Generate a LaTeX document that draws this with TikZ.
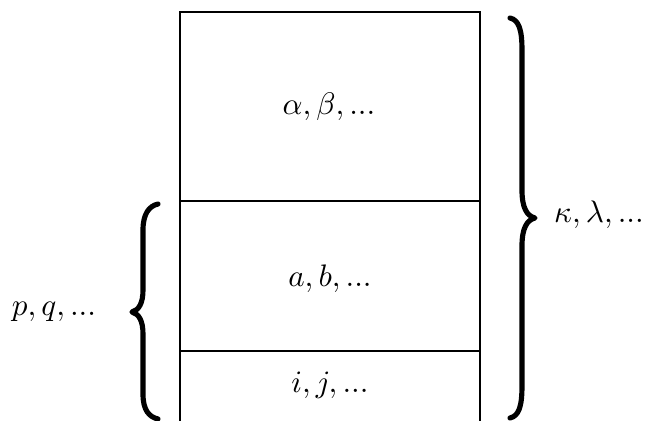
\documentclass[tikz,border=0pt]{standalone}
\begin{document}
\begin{tikzpicture}[x=0.3214pt,y=-0.3214pt,
  frame/.style={line width=0.65pt},
  bracepath/.style={line width=1.65pt,line cap=round,line join=round},
  lbl/.style={inner sep=0pt,anchor=center}]
\useasboundingbox (0,0) rectangle (645,421);
% index block: open at the bottom
\draw[frame] (180,421) -- (180,12) -- (480,12) -- (480,421);
\draw[frame] (180,201) -- (480,201);
\draw[frame] (180,351) -- (480,351);
% labels inside the blocks
\node[lbl] (greek) at (329,107) {$\alpha, \beta, ...$};
\node[lbl] (virt)  at (330,279) {$a, b, ...$};
\node[lbl] (occ)   at (330,385) {$i, j, ...$};
% right brace spanning all blocks
\draw[bracepath] (510,18) .. controls (519,20) and (522,30) .. (522,50)
  -- (522,190) .. controls (522,208) and (527,216) .. (535,218)
  .. controls (527,220) and (522,228) .. (522,246)
  -- (522,386) .. controls (522,406) and (519,416) .. (510,418);
\node[lbl] (all) at (599,215) {$\kappa, \lambda, ...$};
% left brace spanning the lower blocks
\draw[bracepath] (158,204) .. controls (149,206) and (143,214) .. (143,230)
  -- (143,290) .. controls (143,303) and (139,310) .. (132,312)
  .. controls (139,314) and (143,321) .. (143,334)
  -- (143,394) .. controls (143,410) and (149,417) .. (158,419);
\node[lbl] (gen) at (54,312) {$p, q, ...$};
\end{tikzpicture}
\end{document}
